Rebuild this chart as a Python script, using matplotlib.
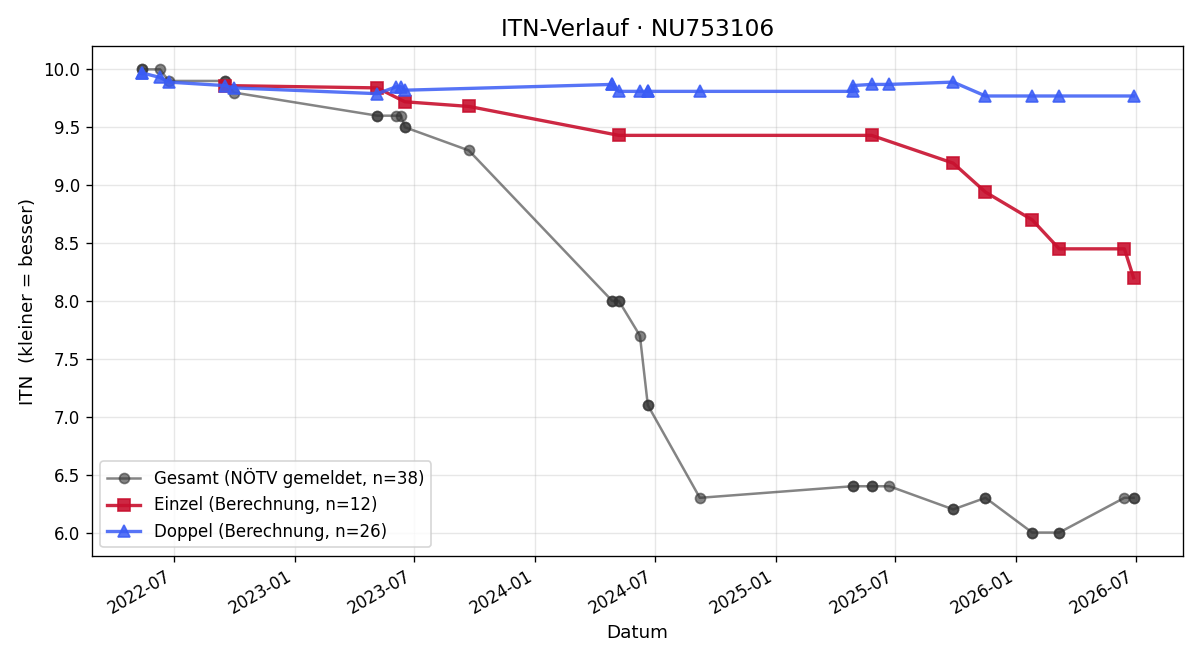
import numpy as np
import pandas as pd
import matplotlib
matplotlib.use("Agg")
import matplotlib.pyplot as plt
import matplotlib.dates as mdates

# Gesamt = alle gemeldeten Spiele (Einzel + Doppel)
gesamt_dates = ["2022-05-13", "2022-05-13", "2022-06-10", "2022-06-23", "2022-09-16", "2022-09-16",
                "2022-09-30", "2023-05-06", "2023-05-06", "2023-06-04", "2023-06-11", "2023-06-17",
                "2023-06-17", "2023-09-22", "2024-04-27", "2024-04-27", "2024-05-07", "2024-05-07",
                "2024-06-08", "2024-06-20", "2024-06-20", "2024-09-07", "2025-04-27", "2025-04-27",
                "2025-05-26", "2025-05-26", "2025-06-22", "2025-09-27", "2025-09-27", "2025-11-15",
                "2025-11-15", "2026-01-25", "2026-01-25", "2026-03-07", "2026-03-07", "2026-06-14",
                "2026-06-28", "2026-06-28"]
gesamt_itn = [10.0, 10.0, 10.0, 9.9, 9.9, 9.9,
              9.8, 9.6, 9.6, 9.6, 9.6, 9.5,
              9.5, 9.3, 8.0, 8.0, 8.0, 8.0,
              7.7, 7.1, 7.1, 6.3, 6.4, 6.4,
              6.4, 6.4, 6.4, 6.2, 6.2, 6.3,
              6.3, 6.0, 6.0, 6.0, 6.0, 6.3,
              6.3, 6.3]

einzel_dates = ["2022-09-16", "2023-05-06", "2023-06-17", "2023-09-22", "2024-05-07", "2025-05-26",
                "2025-09-27", "2025-11-15", "2026-01-25", "2026-03-07", "2026-06-14", "2026-06-28"]
einzel_itn = [9.86, 9.84, 9.72, 9.68, 9.43, 9.43, 9.19, 8.94, 8.70, 8.45, 8.45, 8.20]

doppel_dates = ["2022-05-13", "2022-05-13", "2022-06-10", "2022-06-23", "2022-09-16", "2022-09-30",
                "2023-05-06", "2023-06-04", "2023-06-11", "2023-06-17", "2024-04-27", "2024-04-27",
                "2024-05-07", "2024-06-08", "2024-06-20", "2024-06-20", "2024-09-07", "2025-04-27",
                "2025-04-27", "2025-05-26", "2025-06-22", "2025-09-27", "2025-11-15", "2026-01-25",
                "2026-03-07", "2026-06-28"]
doppel_itn = [9.97, 9.97, 9.93, 9.89, 9.86, 9.84,
              9.79, 9.85, 9.85, 9.82, 9.87, 9.87,
              9.81, 9.81, 9.81, 9.81, 9.81, 9.81,
              9.86, 9.87, 9.87, 9.89, 9.77, 9.77,
              9.77, 9.77]

fig, ax = plt.subplots(figsize=(10, 5.5), dpi=120)

ax.plot(pd.to_datetime(gesamt_dates), gesamt_itn, "-o", color="#333333", alpha=0.6, lw=1.5, ms=6,
        label="Gesamt (NÖTV gemeldet, n={})".format(len(gesamt_itn)))
ax.plot(pd.to_datetime(einzel_dates), einzel_itn, "-s", color="#c8102e", alpha=0.9, lw=2, ms=7,
        label="Einzel (Berechnung, n={})".format(len(einzel_itn)))
ax.plot(pd.to_datetime(doppel_dates), doppel_itn, "-^", color="#3a5cf5", alpha=0.85, lw=2, ms=7,
        label="Doppel (Berechnung, n={})".format(len(doppel_itn)))

ax.set_title("ITN-Verlauf · NU753106", fontsize=14)
ax.set_xlabel("Datum", fontsize=11)
ax.set_ylabel("ITN  (kleiner = besser)", fontsize=11)
ax.xaxis.set_major_locator(mdates.MonthLocator(bymonth=[1, 7]))
ax.xaxis.set_major_formatter(mdates.DateFormatter("%Y-%m"))
ax.grid(True, alpha=0.3)
ax.legend(loc="lower left", fontsize=10)
fig.autofmt_xdate()

plt.subplots_adjust(left=0.0767, right=0.986, top=0.930, bottom=0.158)
plt.savefig("out.png", dpi=120)
